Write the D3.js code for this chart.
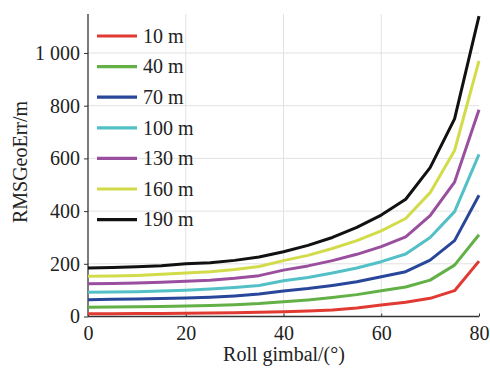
<!DOCTYPE html>
<html><head><meta charset="utf-8">
<script src="https://cdn.jsdelivr.net/npm/d3@7"></script>
<style>
body{margin:0;background:#fff;}
svg text{font-family:"Liberation Serif","Times New Roman",serif;fill:#222;}
</style></head>
<body><svg id="c" width="490" height="369"></svg>
<script>
const rollAngles = [0,5,10,15,20,25,30,35,40,45,50,55,60,65,70,75,80];
const seriesNames = ["10 m","40 m","70 m","100 m","130 m","160 m","190 m"];
const seriesColors = ["#e03a32","#62b046","#28479a","#52c0c6","#9a4e9e","#d2dc4a","#111111"];
const err10  = [10,10,11,11,12,13,14,16,18,21,25,32,44,54,69,98,210];
const err40  = [35,36,37,38,40,42,45,49,56,63,72,83,98,112,138,195,310];
const err70  = [64,65,66,68,70,73,78,85,97,106,118,132,151,170,214,288,460];
const err100 = [92,93,94,97,100,104,110,118,136,148,165,184,208,237,300,398,615];
const err130 = [124,125,127,130,134,138,145,155,176,192,212,236,265,302,383,510,785];
const err160 = [153,154,156,160,165,170,178,190,212,232,258,288,325,372,470,630,970];
const err190 = [184,186,189,193,200,204,213,226,246,270,300,338,385,445,565,750,1140];
const seriesValues = [err10,err40,err70,err100,err130,err160,err190];
const xTicks = [0,20,40,60,80];
const yTicks = [0,200,400,600,800,1000];
const yTickLabels = ["0","200","400","600","800","1 000"];

const svg = d3.select("#c");
const x = d3.scaleLinear().domain([0,80]).range([88,479]);
const y = d3.scaleLinear().domain([0,1148]).range([316.5,14]);

// grid
svg.append("g").selectAll("line").data(xTicks.filter(d=>d>0&&d<80)).join("line")
  .attr("x1",d=>x(d)).attr("x2",d=>x(d)).attr("y1",y(0)).attr("y2",y(1148))
  .attr("stroke","#e2e2e2").attr("stroke-width",1);
svg.append("g").selectAll("line").data(yTicks.filter(d=>d>0)).join("line")
  .attr("x1",x(0)).attr("x2",x(80)).attr("y1",d=>y(d)).attr("y2",d=>y(d))
  .attr("stroke","#e2e2e2").attr("stroke-width",1);

// axes
const xAxis = svg.append("g").attr("transform",`translate(0,${y(0)})`)
  .call(d3.axisBottom(x).tickValues(xTicks).tickSize(-3).tickPadding(9));
const yAxis = svg.append("g").attr("transform",`translate(${x(0)},0)`)
  .call(d3.axisLeft(y).tickValues(yTicks).tickFormat((d,i)=>yTickLabels[i]).tickSize(4).tickPadding(4));
[xAxis,yAxis].forEach(a=>{
  a.selectAll("text").style("font-size","20px").attr("fill","#222");
  a.selectAll("line").attr("stroke","#333");
  a.select(".domain").attr("stroke","#333").attr("stroke-width",1.3);
});
yAxis.select(".domain").attr("d",`M0,${y(1148)}V${y(0)}`);
xAxis.select(".domain").attr("d",`M${x(0)},0H${x(80)}`);

// lines
const line = d3.line().x((d,i)=>x(rollAngles[i])).y(d=>y(d));
seriesValues.forEach((vals,k)=>{
  svg.append("path").datum(vals).attr("d",line).attr("fill","none")
    .attr("stroke",seriesColors[k]).attr("stroke-width",3).attr("stroke-linejoin","round");
});

// legend
const lg = svg.append("g");
seriesNames.forEach((n,k)=>{
  const yy = 36 + k*30.6;
  lg.append("line").attr("x1",97).attr("x2",137).attr("y1",yy).attr("y2",yy)
    .attr("stroke",seriesColors[k]).attr("stroke-width",3.2);
  lg.append("text").attr("x",143).attr("y",yy+6.8).style("font-size","20px").text(n);
});

// titles
svg.append("text").attr("x",284).attr("y",361).attr("text-anchor","middle")
  .style("font-size","20px").text("Roll gimbal/(°)");
svg.append("text").attr("transform","translate(27,162) rotate(-90)").attr("text-anchor","middle")
  .style("font-size","20px").text("RMSGeoErr/m");
</script></body></html>
